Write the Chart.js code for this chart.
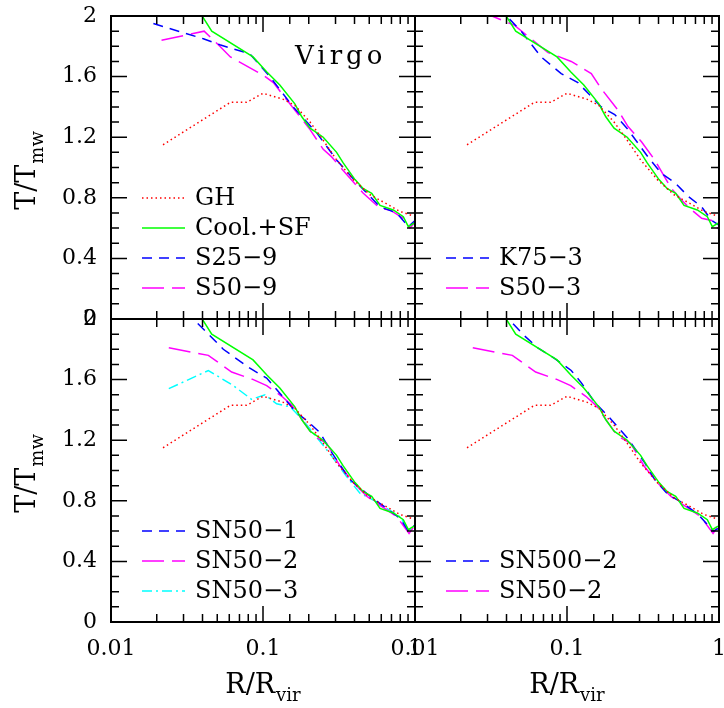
<!DOCTYPE html>
<html>
<head>
<meta charset="utf-8">
<script src="https://cdn.jsdelivr.net/npm/chart.js@4.4.1/dist/chart.umd.min.js"></script>
<style>
  html, body { margin: 0; padding: 0; background: #fff; }
  #wrap { position: relative; width: 724px; height: 708px; }
  #wrap canvas { position: absolute; left: 0; top: 0; }
</style>
</head>
<body>
<div id="wrap">
  <canvas id="tl" width="724" height="708"></canvas>
  <canvas id="tr" width="724" height="708"></canvas>
  <canvas id="bl" width="724" height="708"></canvas>
  <canvas id="br" width="724" height="708"></canvas>
</div>
<script>
// tick labels
const xTickLabels = ['0.01', '0.1', '1'];
const yTickLabels = ['0', '0.4', '0.8', '1.2', '1.6', '2'];

// GH (adiabatic) - same curve in every panel
const ghR = [0.022, 0.061, 0.078, 0.1, 0.136, 0.162, 0.204, 0.249, 0.305, 0.393, 0.506, 0.651, 0.796, 0.975, 1.0];
const ghT = [1.15, 1.43, 1.43, 1.49, 1.45, 1.41, 1.30, 1.18, 1.05, 0.92, 0.82, 0.76, 0.71, 0.68, 0.68];

// Cool.+SF - same curve in every panel
const coolR = [0.037, 0.046, 0.086, 0.106, 0.129, 0.162, 0.180, 0.204, 0.249, 0.305, 0.337, 0.403, 0.457, 0.519, 0.589, 0.72, 0.838, 0.904, 0.975, 1.0];
const coolT = [2.05, 1.90, 1.73, 1.63, 1.545, 1.42, 1.335, 1.26, 1.20, 1.10, 1.03, 0.92, 0.86, 0.83, 0.75, 0.72, 0.675, 0.61, 0.63, 0.63];

// top left
const s259R = [0.019, 0.0405, 0.052, 0.082, 0.111, 0.158, 0.225, 0.305, 0.414, 0.589, 0.758, 0.904, 1.0];
const s259T = [1.95, 1.85, 1.81, 1.75, 1.60, 1.40, 1.23, 1.05, 0.90, 0.74, 0.70, 0.61, 0.65];
const s509R = [0.0215, 0.041, 0.052, 0.061, 0.1, 0.117, 0.204, 0.249, 0.283, 0.337, 0.457, 0.589, 0.685, 0.838, 0.927, 1.0];
const s509T = [1.84, 1.90, 1.80, 1.73, 1.61, 1.56, 1.25, 1.12, 1.07, 0.98, 0.83, 0.73, 0.72, 0.665, 0.60, 0.64];

// top right
const k753R = [0.035, 0.0499, 0.0676, 0.0916, 0.118, 0.168, 0.206, 0.252, 0.341, 0.419, 0.513, 0.627, 0.769, 0.895, 1.0];
const k753T = [2.06, 1.90, 1.73, 1.62, 1.56, 1.40, 1.35, 1.25, 1.07, 0.96, 0.90, 0.81, 0.74, 0.65, 0.62];
const s503R = [0.027, 0.045, 0.0747, 0.1066, 0.1445, 0.168, 0.216, 0.252, 0.309, 0.378, 0.487, 0.567, 0.66, 0.769, 0.895, 1.0];
const s503T = [2.03, 1.94, 1.76, 1.70, 1.62, 1.52, 1.38, 1.27, 1.17, 1.05, 0.86, 0.785, 0.72, 0.665, 0.65, 0.59];

// bottom left
const sn501R = [0.031, 0.0448, 0.0548, 0.082, 0.1057, 0.129, 0.167, 0.194, 0.237, 0.276, 0.373, 0.506, 0.651, 0.796, 0.904, 1.0];
const sn501T = [2.05, 1.89, 1.80, 1.675, 1.61, 1.51, 1.38, 1.33, 1.25, 1.135, 0.94, 0.83, 0.75, 0.685, 0.60, 0.64];
const sn502R = [0.024, 0.0437, 0.0622, 0.0864, 0.1057, 0.133, 0.155, 0.214, 0.262, 0.321, 0.393, 0.481, 0.589, 0.758, 0.914, 1.0];
const sn502T = [1.81, 1.76, 1.65, 1.60, 1.56, 1.49, 1.43, 1.23, 1.18, 1.03, 0.92, 0.83, 0.77, 0.695, 0.585, 0.64];
const sn503R = [0.024, 0.0437, 0.0638, 0.0841, 0.103, 0.123, 0.151, 0.184, 0.225, 0.276, 0.355, 0.434, 0.532, 0.651, 0.796, 0.914, 1.0];
const sn503T = [1.54, 1.66, 1.56, 1.47, 1.50, 1.44, 1.42, 1.33, 1.22, 1.11, 0.96, 0.85, 0.805, 0.75, 0.695, 0.60, 0.64];

// bottom right
const sn5002R = [0.037, 0.0524, 0.0642, 0.0827, 0.1066, 0.124, 0.152, 0.186, 0.206, 0.252, 0.325, 0.378, 0.463, 0.567, 0.73, 0.916, 1.0];
const sn5002T = [2.05, 1.89, 1.81, 1.74, 1.66, 1.58, 1.45, 1.36, 1.31, 1.21, 1.05, 0.94, 0.84, 0.79, 0.71, 0.60, 0.62];

const FONT = "'DejaVu Serif', 'Liberation Serif', serif";

const styles = {
  dot:     { color: '#ff0000', dash: [1.5, 3] },
  solid:   { color: '#00ff00', dash: [] },
  dash:    { color: '#0000ff', dash: [10, 7] },
  longd:   { color: '#ff00ff', dash: [22, 8] },
  dashdot: { color: '#00ffff', dash: [10, 4, 2, 4] },
};

function pts(xs, ys) {
  return xs.map((x, i) => ({ x: x, y: ys[i] }));
}

function series(label, xs, ys, style, inLegend) {
  const s = styles[style];
  return {
    label: label,
    data: pts(xs, ys),
    borderColor: s.color,
    borderDash: s.dash,
    borderWidth: 1.5,
    pointRadius: 0,
    fill: false,
    tension: 0,
    inLegend: inLegend,
  };
}

function isMajorY(v) {
  return Math.abs(v / 0.4 - Math.round(v / 0.4)) < 1e-6;
}
function isMajorX(v) {
  const l = Math.log10(v);
  return Math.abs(l - Math.round(l)) < 1e-6;
}

// draws text with a lowered, smaller suffix; returns nothing
function subText(ctx, main, sub, x, y, size, centered) {
  ctx.font = size + 'px ' + FONT;
  const w1 = ctx.measureText(main).width;
  ctx.font = Math.round(size * 0.68) + 'px ' + FONT;
  const w2 = ctx.measureText(sub).width;
  let x0 = centered ? x - (w1 + w2 + 1) / 2 : x;
  ctx.font = size + 'px ' + FONT;
  ctx.fillText(main, x0, y);
  ctx.font = Math.round(size * 0.68) + 'px ' + FONT;
  ctx.fillText(sub, x0 + w1 + 1, y + size * 0.28);
}

const panelDecor = {
  id: 'panelDecor',
  afterDatasetsDraw(chart, args, opts) {
    const ctx = chart.ctx;
    const a = chart.chartArea;
    const xs = chart.scales.x, ys = chart.scales.y;
    ctx.save();
    ctx.strokeStyle = '#000';
    ctx.lineWidth = 1.5;
    ctx.setLineDash([]);
    ctx.beginPath();
    xs.ticks.forEach(t => {
      const px = xs.getPixelForValue(t.value);
      const len = isMajorX(t.value) ? 16 : 8;
      ctx.moveTo(px, a.bottom); ctx.lineTo(px, a.bottom - len);
      ctx.moveTo(px, a.top); ctx.lineTo(px, a.top + len);
    });
    ys.ticks.forEach(t => {
      const py = ys.getPixelForValue(t.value);
      const len = isMajorY(t.value) ? 16 : 8;
      ctx.moveTo(a.left, py); ctx.lineTo(a.left + len, py);
      ctx.moveTo(a.right, py); ctx.lineTo(a.right - len, py);
    });
    ctx.stroke();
    ctx.lineWidth = 2;
    ctx.strokeRect(a.left, a.top, a.right - a.left, a.bottom - a.top);

    // legend inside the panel, bottom-left
    const items = chart.data.datasets.filter(d => d.inLegend);
    ctx.fillStyle = '#000';
    ctx.textBaseline = 'middle';
    items.forEach((d, i) => {
      const y = a.bottom - 31 - (items.length - 1 - i) * 30;
      ctx.strokeStyle = d.borderColor;
      ctx.lineWidth = 1.5;
      ctx.setLineDash(d.borderDash);
      ctx.beginPath();
      ctx.moveTo(a.left + 31, y);
      ctx.lineTo(a.left + 74, y);
      ctx.stroke();
      ctx.font = '24px ' + FONT;
      ctx.fillText(d.label, a.left + 84, y + 1);
    });
    ctx.setLineDash([]);

    if (opts.tag) {
      ctx.font = '26px ' + FONT;
      ctx.letterSpacing = '4px';
      ctx.textBaseline = 'alphabetic';
      ctx.fillText(opts.tag, a.left + 184, a.top + 48);
      ctx.letterSpacing = '0px';
    }

    ctx.textBaseline = 'alphabetic';
    if (opts.yTitle) {
      ctx.save();
      ctx.translate(35, (a.top + a.bottom) / 2 + 3);
      ctx.rotate(-Math.PI / 2);
      subText(ctx, 'T/T', 'mw', 0, 0, 27, true);
      ctx.restore();
    }
    if (opts.xTitle) {
      subText(ctx, 'R/R', 'vir', (a.left + a.right) / 2, 693, 27, true);
    }
    ctx.restore();
  }
};

function makePanel(id, pad, showY, showX, datasets, extra) {
  const ctx = document.getElementById(id).getContext('2d');
  return new Chart(ctx, {
    type: 'line',
    data: { datasets: datasets },
    plugins: [panelDecor],
    options: {
      responsive: false,
      devicePixelRatio: 1,
      animation: false,
      layout: { padding: pad, autoPadding: false },
      scales: {
        x: {
          type: 'logarithmic',
          min: 0.01,
          max: 1,
          grid: { display: false, drawTicks: false },
          border: { display: false },
          ticks: {
            display: showX,
            autoSkip: false,
            maxRotation: 0,
            padding: 14,
            color: '#000',
            font: { family: FONT, size: 22 },
            callback: (v) => isMajorX(v) ? xTickLabels[Math.round(Math.log10(v)) + 2] : '',
          },
          afterFit: (s) => { s.height = showX ? 86 : 0; s.paddingLeft = 0; s.paddingRight = 0; },
        },
        y: {
          type: 'linear',
          min: 0,
          max: 2,
          grid: { display: false, drawTicks: false },
          border: { display: false },
          ticks: {
            display: showY,
            stepSize: 0.1,
            autoSkip: false,
            padding: 14,
            color: '#000',
            font: { family: FONT, size: 22 },
            callback: (v) => isMajorY(v) ? yTickLabels[Math.round(v / 0.4)] : '',
          },
          afterFit: (s) => { s.width = showY ? 111 : 0; s.paddingTop = 0; s.paddingBottom = 0; },
        },
      },
      plugins: {
        legend: { display: false },
        title: { display: false },
        tooltip: { enabled: false },
        panelDecor: extra,
      },
    },
  });
}

makePanel('tl', { left: 0, right: 309, top: 16, bottom: 389 }, true, false, [
  series('GH', ghR, ghT, 'dot', true),
  series('Cool.+SF', coolR, coolT, 'solid', true),
  series('S25\u22129', s259R, s259T, 'dash', true),
  series('S50\u22129', s509R, s509T, 'longd', true),
], { tag: 'Virgo', yTitle: true });

makePanel('tr', { left: 415, right: 5, top: 16, bottom: 389 }, false, false, [
  series('GH', ghR, ghT, 'dot', false),
  series('Cool.+SF', coolR, coolT, 'solid', false),
  series('K75\u22123', k753R, k753T, 'dash', true),
  series('S50\u22123', s503R, s503T, 'longd', true),
], {});

makePanel('bl', { left: 0, right: 309, top: 319, bottom: 0 }, true, true, [
  series('GH', ghR, ghT, 'dot', false),
  series('Cool.+SF', coolR, coolT, 'solid', false),
  series('SN50\u22121', sn501R, sn501T, 'dash', true),
  series('SN50\u22122', sn502R, sn502T, 'longd', true),
  series('SN50\u22123', sn503R, sn503T, 'dashdot', true),
], { yTitle: true, xTitle: true });

makePanel('br', { left: 415, right: 5, top: 319, bottom: 0 }, false, true, [
  series('GH', ghR, ghT, 'dot', false),
  series('Cool.+SF', coolR, coolT, 'solid', false),
  series('SN500\u22122', sn5002R, sn5002T, 'dash', true),
  series('SN50\u22122', sn502R, sn502T, 'longd', true),
], { xTitle: true });
</script>
</body>
</html>
